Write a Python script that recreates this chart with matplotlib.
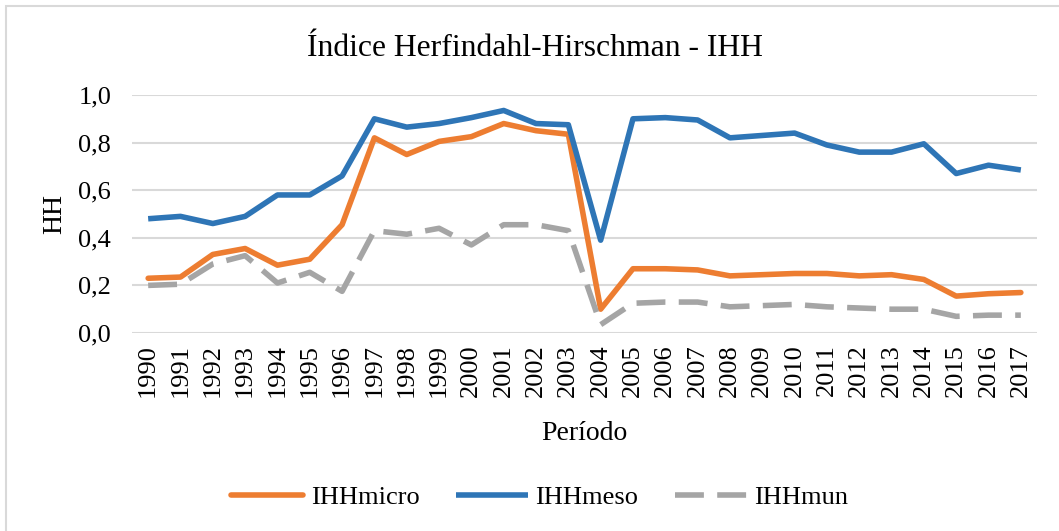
import numpy as np
import matplotlib
matplotlib.use('Agg')
from matplotlib import pyplot as plt
from matplotlib.patches import Rectangle

anos = list(range(1990, 2018))
ihh_micro = [0.23, 0.235, 0.33, 0.355, 0.285, 0.31, 0.455, 0.82, 0.75, 0.805,
             0.825, 0.88, 0.85, 0.835, 0.10, 0.27, 0.27, 0.265, 0.24, 0.245,
             0.25, 0.25, 0.24, 0.245, 0.225, 0.155, 0.165, 0.17]
ihh_meso = [0.48, 0.49, 0.46, 0.49, 0.58, 0.58, 0.66, 0.90, 0.865, 0.88,
            0.905, 0.935, 0.88, 0.875, 0.39, 0.90, 0.905, 0.895, 0.82, 0.83,
            0.84, 0.79, 0.76, 0.76, 0.795, 0.67, 0.705, 0.685]
ihh_mun = [0.20, 0.205, 0.29, 0.325, 0.21, 0.255, 0.175, 0.43, 0.415, 0.44,
           0.37, 0.455, 0.455, 0.43, 0.035, 0.125, 0.13, 0.13, 0.11, 0.115,
           0.12, 0.11, 0.105, 0.10, 0.10, 0.07, 0.075, 0.075]
y_ticks = [0.0, 0.2, 0.4, 0.6, 0.8, 1.0]

plt.rcParams['font.family'] = ['Liberation Serif', 'DejaVu Serif']

fig = plt.figure(figsize=(10.59, 5.31), dpi=100)
W, H = 1059, 531
ax = fig.add_axes([132 / W, 1 - 333 / H, (1037 - 132) / W, (333 - 95) / H])

# moldura do gráfico
fig.patches.append(Rectangle((6 / W, -0.1), 1.2, 1 - 6 / H + 0.1, transform=fig.transFigure,
                             fill=False, edgecolor='#d9d9d9', lw=1.5))

ax.plot(anos, ihh_micro, color='#ED7D31', lw=4.0, label='IHHmicro', solid_capstyle='round')
ax.plot(anos, ihh_meso, color='#2E75B6', lw=4.0, label='IHHmeso', solid_capstyle='butt')
ax.plot(anos, ihh_mun, color='#A5A5A5', lw=4.0, label='IHHmun', dashes=(5.2, 2.4))

ax.set_xlim(1989.5, 2017.5)
ax.set_ylim(0, 1.0)
ax.set_yticks(y_ticks)
ax.set_yticklabels([f'{v:.1f}'.replace('.', ',') for v in y_ticks])
ax.set_xticks(anos)
ax.set_xticklabels([str(a) for a in anos], rotation=90)
ax.tick_params(axis='both', length=0, labelsize=19, colors='#000000')
ax.tick_params(axis='y', pad=15)
ax.tick_params(axis='x', pad=8)
ax.grid(axis='y', color='#d9d9d9', lw=1.5)
ax.set_axisbelow(True)
for s in ax.spines.values():
    s.set_visible(False)

ax.set_ylabel('HH', fontsize=20, labelpad=8)
ax.set_xlabel('Período', fontsize=20, labelpad=17)
fig.text(535 / W, 1 - 48 / H, 'Índice Herfindahl-Hirschman - IHH', fontsize=22.8,
         ha='center', va='center')

fig.legend(loc='center', bbox_to_anchor=(540 / W, 1 - 497 / H), ncol=3, frameon=False,
           fontsize=19, handlelength=2.7, columnspacing=1.4, handletextpad=0.3)

fig.savefig('out.png', dpi=100)
